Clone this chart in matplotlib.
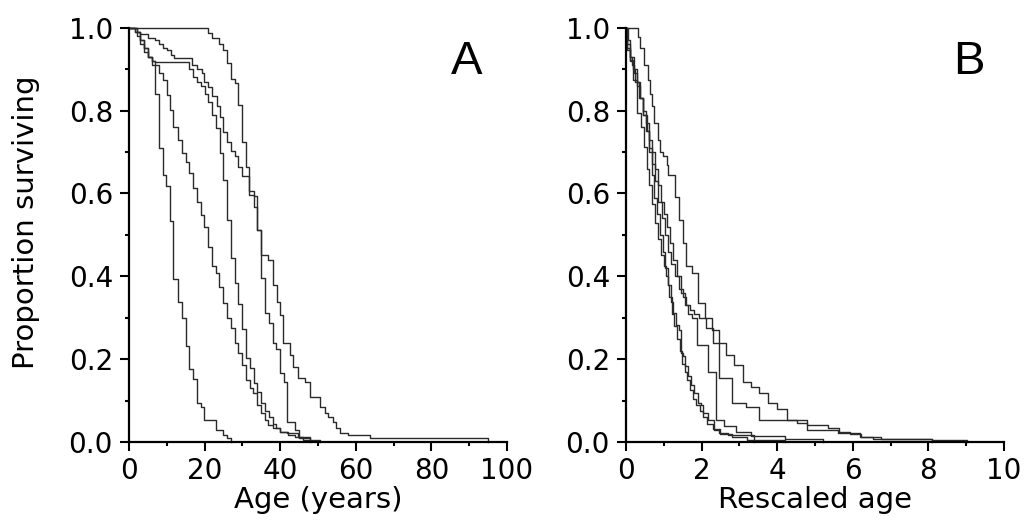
import matplotlib
matplotlib.use("Agg")
import matplotlib.pyplot as plt
from matplotlib.ticker import MultipleLocator

plt.rcParams['font.family'] = ['DejaVu Sans']

# Panel A: survival vs age (years), step curves
a1_age = [0, 2, 3, 4, 5, 6, 6.9, 7.9, 8.9, 9.7, 10.8, 11.7, 13.1, 13.9, 15.0, 16.0,
          17.0, 18.1, 19.0, 19.9, 23.0, 25.0, 26.0, 27.0]
a1_surv = [1.0, 0.99, 0.97, 0.95, 0.93, 0.91, 0.84, 0.71, 0.645, 0.617, 0.534, 0.393,
           0.338, 0.299, 0.233, 0.178, 0.152, 0.094, 0.086, 0.055, 0.030, 0.018, 0.011, 0.0]

a2_age = [0, 1.5, 3, 4, 5, 6, 7, 8, 9.1, 10.0, 10.8, 11.7, 13.1, 13.9, 15.0, 16.0, 17.0,
          18.1, 19.0, 19.9, 21.0, 21.9, 23.0, 23.9, 25.0, 26.0, 27.0, 28.0, 28.9, 30.0,
          31.0, 32.0, 32.9, 34.0, 34.9, 36.0, 36.9, 38.2, 39.9, 41.7, 44.8, 47.9, 50.5]
a2_surv = [1.0, 0.99, 0.97, 0.95, 0.93, 0.92, 0.91, 0.89, 0.874, 0.838, 0.801, 0.761,
           0.729, 0.697, 0.675, 0.649, 0.613, 0.58, 0.548, 0.52, 0.472, 0.425, 0.408,
           0.375, 0.335, 0.299, 0.275, 0.239, 0.215, 0.186, 0.15, 0.13, 0.118, 0.09,
           0.07, 0.054, 0.042, 0.034, 0.026, 0.022, 0.014, 0.006, 0.0]

a3_age = [0, 2, 3, 4, 5, 6, 7, 16, 17, 18, 19, 20, 21, 22, 22.9, 24.0, 25.0, 26.0, 27.0,
          28.0, 28.9, 30.0, 31.0, 32.0, 33.1, 34.0, 34.9, 36, 37, 38, 39, 40, 42, 44,
          46, 48, 50]
a3_surv = [1.0, 0.98, 0.96, 0.94, 0.93, 0.92, 0.918, 0.90, 0.88, 0.87, 0.86, 0.84, 0.82,
           0.79, 0.757, 0.697, 0.633, 0.536, 0.444, 0.384, 0.334, 0.273, 0.204, 0.179,
           0.143, 0.122, 0.094, 0.075, 0.06, 0.045, 0.035, 0.025, 0.018, 0.012, 0.006,
           0.003, 0.0]

a4_age = [0, 1.5, 3, 5, 7, 8, 9, 10, 11, 12, 16.6, 17.9, 19.2, 19.9, 21.0, 21.9, 23.2,
          24.1, 25.0, 26.0, 27.0, 28.0, 28.9, 30.0, 31.7, 33.1, 34.0, 34.9, 36.0, 37.0,
          38.0, 39.0, 40.0, 41.0, 41.7, 43.9, 45.0, 47.9]
a4_surv = [1.0, 0.99, 0.985, 0.975, 0.97, 0.96, 0.95, 0.945, 0.935, 0.926, 0.91, 0.90,
           0.89, 0.87, 0.858, 0.834, 0.81, 0.785, 0.749, 0.725, 0.703, 0.69, 0.665,
           0.643, 0.596, 0.567, 0.512, 0.396, 0.312, 0.287, 0.239, 0.226, 0.168, 0.146,
           0.05, 0.03, 0.01, 0.0]

a5_age = [0, 21.0, 21.9, 23.9, 25.0, 26.0, 27.0, 28.0, 28.9, 30.0, 31.0, 31.7, 33.1,
          34.0, 34.9, 36.9, 38.0, 39.1, 39.9, 40.8, 42.6, 43.5, 44.8, 46.6, 47.9, 50.5,
          51.9, 52.7, 54.1, 54.9, 55.8, 58.0, 63.9, 95.1]
a5_surv = [1.0, 0.986, 0.976, 0.961, 0.946, 0.914, 0.876, 0.866, 0.814, 0.725, 0.665,
           0.607, 0.595, 0.512, 0.452, 0.44, 0.379, 0.339, 0.307, 0.239, 0.211, 0.182,
           0.154, 0.146, 0.110, 0.086, 0.070, 0.062, 0.050, 0.034, 0.023, 0.018, 0.010, 0.0]

# Panel B: survival vs rescaled age
b1_x = [0, 0.02, 0.1, 0.19, 0.28, 0.41, 0.48, 0.55, 0.62, 0.7, 0.78, 0.85, 0.92, 1.0,
        1.05, 1.12, 1.2, 1.25, 1.32, 1.4, 1.45, 1.51, 1.57, 1.65, 1.72, 1.81, 1.91, 1.98,
        2.05, 2.16, 2.32, 2.47, 2.7, 3.4]
b1_surv = [1.0, 0.946, 0.922, 0.874, 0.793, 0.761, 0.713, 0.66, 0.62, 0.575, 0.53, 0.49,
           0.452, 0.424, 0.40, 0.38, 0.339, 0.311, 0.283, 0.271, 0.215, 0.207, 0.183,
           0.159, 0.139, 0.119, 0.095, 0.09, 0.07, 0.054, 0.03, 0.022, 0.018, 0.0]

b2_x = [0, 0.05, 0.12, 0.2, 0.3, 0.38, 0.45, 0.52, 0.6, 0.68, 0.75, 0.82, 0.9, 0.97,
        1.03, 1.1, 1.15, 1.22, 1.28, 1.35, 1.42, 1.48, 1.55, 1.62, 1.7, 1.78, 1.85, 1.95,
        2.05, 2.15, 2.3, 2.5, 2.8, 3.2, 4.2]
b2_surv = [1.0, 0.97, 0.93, 0.9, 0.87, 0.83, 0.79, 0.75, 0.70, 0.645, 0.59, 0.55, 0.5,
           0.46, 0.42, 0.38, 0.35, 0.31, 0.28, 0.25, 0.22, 0.19, 0.17, 0.15, 0.125,
           0.105, 0.09, 0.075, 0.06, 0.045, 0.032, 0.02, 0.012, 0.006, 0.0]

b3_x = [0, 0.03, 0.1, 0.18, 0.25, 0.35, 0.45, 0.55, 0.62, 0.7, 0.78, 0.86, 0.95, 1.02,
        1.1, 1.2, 1.3, 1.4, 1.5, 1.6, 1.7, 1.8, 1.93, 2.11, 2.3, 2.47, 2.81, 3.17, 3.53,
        4.52, 4.78, 5.62, 6.19, 6.76, 8.09]
b3_surv = [1.0, 0.95, 0.92, 0.9, 0.87, 0.83, 0.79, 0.75, 0.71, 0.67, 0.63, 0.58, 0.54,
           0.50, 0.46, 0.43, 0.40, 0.37, 0.35, 0.33, 0.32, 0.31, 0.30, 0.275, 0.239,
           0.154, 0.094, 0.086, 0.055, 0.046, 0.03, 0.022, 0.014, 0.009, 0.0]

b4_x = [0, 0.04, 0.1, 0.15, 0.22, 0.3, 0.38, 0.45, 0.52, 0.6, 0.68, 0.76, 0.84, 0.92,
        1.0, 1.08, 1.16, 1.25, 1.35, 1.45, 1.55, 1.65, 1.75, 1.88, 2.16, 2.37, 2.6, 2.9,
        3.3, 4.2, 5.2]
b4_surv = [1.0, 0.96, 0.93, 0.91, 0.89, 0.86, 0.83, 0.8, 0.77, 0.73, 0.7, 0.66, 0.62,
           0.58, 0.55, 0.52, 0.48, 0.44, 0.4, 0.36, 0.33, 0.31, 0.299, 0.235, 0.17,
           0.054, 0.04, 0.025, 0.015, 0.008, 0.0]

b5_x = [0, 0.31, 0.37, 0.49, 0.59, 0.63, 0.68, 0.75, 0.84, 0.9, 0.99, 1.08, 1.12, 1.30,
        1.41, 1.52, 1.59, 1.76, 1.91, 2.09, 2.28, 2.46, 2.65, 2.86, 3.09, 3.31, 3.53,
        3.77, 4.0, 4.25, 4.78, 5.35, 5.63, 5.93, 6.23, 6.54, 8.09, 9.01]
b5_surv = [1.0, 0.978, 0.95, 0.91, 0.874, 0.84, 0.81, 0.77, 0.729, 0.70, 0.69, 0.669,
           0.645, 0.592, 0.536, 0.48, 0.424, 0.408, 0.335, 0.299, 0.271, 0.239, 0.211,
           0.186, 0.146, 0.133, 0.118, 0.096, 0.08, 0.055, 0.042, 0.034, 0.026, 0.019,
           0.012, 0.009, 0.005, 0.0]

panel_a = [(a1_age, a1_surv), (a2_age, a2_surv), (a3_age, a3_surv),
           (a4_age, a4_surv), (a5_age, a5_surv)]
panel_b = [(b1_x, b1_surv), (b2_x, b2_surv), (b3_x, b3_surv),
           (b4_x, b4_surv), (b5_x, b5_surv)]

fig = plt.figure(figsize=(10.26, 5.31), dpi=100)
ax_a = fig.add_axes([0.1257, 0.167, 0.3684, 0.781])
ax_b = fig.add_axes([0.6101, 0.167, 0.3684, 0.781])


def style(ax, xmax, xmajor, xminor, xlabel, letter, lx):
    ax.set_xlim(0, xmax)
    ax.set_ylim(0, 1.0)
    ax.spines['top'].set_visible(False)
    ax.spines['right'].set_visible(False)
    for s in ('left', 'bottom'):
        ax.spines[s].set_linewidth(1.6)
    ax.xaxis.set_major_locator(MultipleLocator(xmajor))
    ax.xaxis.set_minor_locator(MultipleLocator(xminor))
    ax.yaxis.set_minor_locator(MultipleLocator(0.1))
    ax.set_yticks([0, 0.2, 0.4, 0.6, 0.8, 1.0])
    ax.set_yticklabels(['0.0', '0.2', '0.4', '0.6', '0.8', '1.0'])
    ax.tick_params(which='major', direction='out', length=6.5, width=1.5,
                   labelsize=20)
    ax.tick_params(axis='x', which='major', pad=4)
    ax.tick_params(axis='y', which='major', pad=5)
    ax.tick_params(which='minor', direction='out', length=3, width=1.5)
    ax.set_xlabel(xlabel, fontsize=21, labelpad=1)
    ax.text(lx, 0.888, letter, transform=ax.transAxes, fontsize=34,
            family='Liberation Sans', ha='center', va='baseline')


for xs, ys in panel_a:
    ax_a.step(xs, ys, where='post', color='#2a2a2a', lw=1.0, clip_on=False)
for xs, ys in panel_b:
    ax_b.step(xs, ys, where='post', color='#2a2a2a', lw=1.0, clip_on=False)

style(ax_a, 100, 20, 10, 'Age (years)', 'A', 0.894)
style(ax_b, 10, 2, 1, 'Rescaled age', 'B', 0.907)
ax_a.set_ylabel('Proportion surviving', fontsize=21)
ax_a.yaxis.set_label_coords(-0.2354, 0.53)

fig.savefig('out.png', dpi=100)
